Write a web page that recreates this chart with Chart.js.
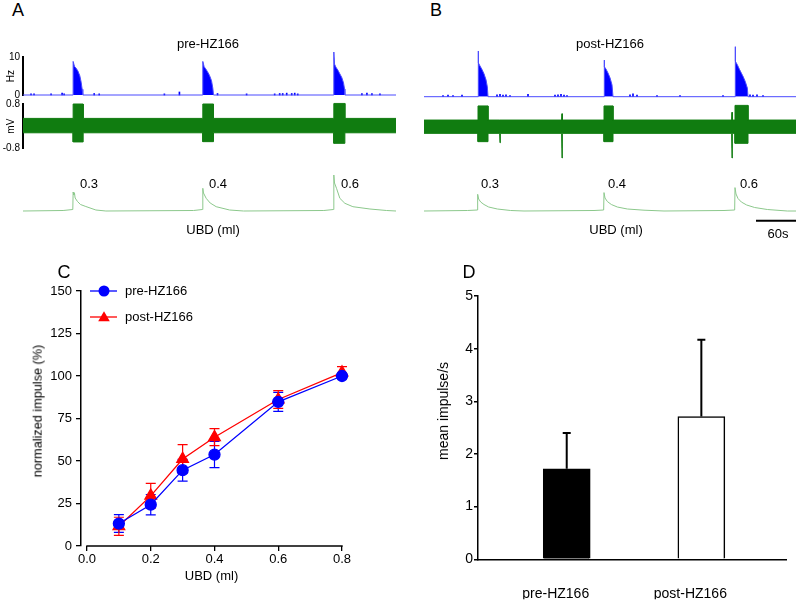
<!DOCTYPE html>
<html>
<head>
<meta charset="utf-8">
<title>HZ166 bladder afferent recordings</title>
<script src="https://cdn.jsdelivr.net/npm/chart.js"></script>
<style>
  html, body { margin: 0; padding: 0; background: #fff; }
  body { width: 800px; height: 602px; position: relative; overflow: hidden;
         font-family: "Liberation Sans", Arial, Helvetica, sans-serif; color: #000; }
  canvas { position: absolute; }
  .lbl { position: absolute; white-space: nowrap; line-height: 1; transform: translate(-50%, -50%); }
  .rot { transform: translate(-50%, -50%) rotate(-90deg); }
</style>
</head>
<body>
  <canvas id="hzA" width="400" height="64" style="left:0;top:40px;width:400px;height:64px"></canvas>
  <canvas id="mvA" width="400" height="68" style="left:0;top:94px;width:400px;height:68px"></canvas>
  <canvas id="prA" width="400" height="66" style="left:0;top:160px;width:400px;height:66px"></canvas>
  <canvas id="hzB" width="400" height="64" style="left:400px;top:40px;width:400px;height:64px"></canvas>
  <canvas id="mvB" width="400" height="68" style="left:400px;top:94px;width:400px;height:68px"></canvas>
  <canvas id="prB" width="400" height="66" style="left:400px;top:160px;width:400px;height:66px"></canvas>
  <canvas id="chartC" width="400" height="350" style="left:0;top:250px;width:400px;height:350px"></canvas>
  <canvas id="chartD" width="400" height="350" style="left:400px;top:250px;width:400px;height:350px"></canvas>

  <div class="lbl" style="left:18px;top:10px;font-size:18px">A</div>
  <div class="lbl" style="left:436px;top:10px;font-size:18px">B</div>
  <div class="lbl" style="left:208px;top:43px;font-size:13px">pre-HZ166</div>
  <div class="lbl" style="left:610px;top:43px;font-size:13px">post-HZ166</div>
  <div class="lbl" style="left:89px;top:183px;font-size:13px">0.3</div>
  <div class="lbl" style="left:218px;top:183px;font-size:13px">0.4</div>
  <div class="lbl" style="left:350px;top:183px;font-size:13px">0.6</div>
  <div class="lbl" style="left:490px;top:183px;font-size:13px">0.3</div>
  <div class="lbl" style="left:617px;top:183px;font-size:13px">0.4</div>
  <div class="lbl" style="left:749px;top:183px;font-size:13px">0.6</div>
  <div class="lbl" style="left:213px;top:229px;font-size:13px">UBD (ml)</div>
  <div class="lbl" style="left:616px;top:229px;font-size:13px">UBD (ml)</div>
  <div class="lbl" style="left:778px;top:233px;font-size:13px">60s</div>
  <div class="lbl" style="left:64px;top:272px;font-size:18px">C</div>
  <div class="lbl" style="left:469px;top:272px;font-size:18px">D</div>
  <div class="lbl rot" style="left:38px;top:411px;font-size:12.7px">normalized impulse (%)</div>
  <div class="lbl rot" style="left:443px;top:411px;font-size:14px">mean impulse/s</div>

<script>
const FONT = '"Liberation Sans", Arial, Helvetica, sans-serif';
const BLUE = '#0000ff';
const RED = '#ff0000';
const GREEN = '#107c10';
const PRESSURE = '#8cc88c';

// ---- A / B traces, time in seconds (0-558 s window) ----
const hzTimeA = [0, 75, 75, 77, 79, 82, 85, 87, 88.5, 89.5,
  269, 269, 271, 273, 276, 279, 282, 284, 285,
  465, 465, 466, 468, 471, 474, 477, 479.5, 481, 481.5, 558];
const hzRateA = [0, 0, 8.9, 7.6, 7.2, 6.4, 5.1, 3.4, 1.5, 0,
  0, 8.9, 7.5, 7.0, 6.2, 5.2, 3.8, 1.8, 0,
  0, 11.4, 8.2, 7.4, 6.6, 5.6, 4.6, 3.2, 1.6, 0, 0];
const blipTimeA = [12, 16.5, 42, 58.5, 61.5, 106.5, 114, 211.5, 234, 291, 334.5, 376.5,
  384, 388.5, 394.5, 402, 406.5, 411, 507, 514.5, 522, 534];
const blipRateA = [0.3, 0.3, 0.3, 0.5, 0.3, 0.4, 0.3, 0.3, 0.8, 0.4, 0.3, 0.3,
  0.4, 0.4, 0.5, 0.4, 0.5, 0.3, 0.4, 0.5, 0.4, 0.3];

const hzTimeB = [0, 81, 81, 82, 84, 87, 90, 93, 95, 96,
  270, 270, 271, 273, 276, 279, 282, 283.5,
  466.5, 466.5, 467.5, 470, 473, 476, 479, 482, 485, 486, 558];
const hzRateB = [0, 0, 11.6, 8.6, 7.8, 6.9, 5.8, 4.3, 2.5, 0,
  0, 9.3, 7.6, 7.0, 6.0, 4.8, 3.0, 0,
  0, 12.7, 9.0, 8.1, 7.0, 6.0, 5.0, 3.8, 2.2, 0, 0];
const blipTimeB = [28.5, 36, 43.5, 57, 109.5, 114, 118.5, 123, 129, 156, 196.5, 201,
  205.5, 210, 214.5, 309, 313.5, 319.5, 349.5, 384, 448.5, 489, 493.5, 499.5, 508.5];
const blipRateB = [0.3, 0.4, 0.3, 0.4, 0.5, 0.6, 0.4, 0.5, 0.3, 0.6, 0.4, 0.5,
  0.6, 0.4, 0.3, 0.5, 0.7, 0.4, 0.3, 0.3, 0.3, 0.5, 0.4, 0.5, 0.3];

// raw nerve signal envelope (mV)
const mvTimeA = [0, 75, 75, 90, 90, 269, 269, 285, 285, 465, 465, 481.5, 481.5, 558];
const mvUpperA = [0.28, 0.28, 0.80, 0.80, 0.28, 0.28, 0.80, 0.80, 0.28, 0.28, 0.82, 0.82, 0.28, 0.28];
const mvLowerA = [-0.24, -0.24, -0.57, -0.57, -0.24, -0.24, -0.56, -0.56, -0.24, -0.24, -0.62, -0.62, -0.24, -0.24];

const mvTimeB = [0, 81, 81, 96, 96, 113.5, 114, 114.5, 206.5, 207, 207.5,
  270, 270, 283.5, 283.5, 461.5, 462, 462.5, 466.5, 466.5, 486, 486, 558];
const mvUpperB = [0.22, 0.22, 0.73, 0.73, 0.22, 0.22, 0.22, 0.22, 0.22, 0.45, 0.22,
  0.22, 0.73, 0.73, 0.22, 0.22, 0.5, 0.22, 0.22, 0.75, 0.75, 0.22, 0.22];
const mvLowerB = [-0.26, -0.26, -0.56, -0.56, -0.26, -0.26, -0.6, -0.26, -0.26, -1.15, -0.26,
  -0.26, -0.56, -0.56, -0.26, -0.26, -1.15, -0.26, -0.26, -0.62, -0.62, -0.26, -0.26];

// bladder pressure (relative units)
const prTimeA = [0, 60, 74.5, 75, 76, 77, 78, 81.5, 86, 94, 109, 124,
  255, 268.5, 269, 270, 274, 280, 289, 309, 330,
  450, 464.5, 465, 466, 469, 474, 481.5, 493.5, 519, 544, 558];
const prA = [0, 0.5, 1.5, 19, 16, 18, 13, 9.5, 6.5, 4.5, 1, 0,
  0.5, 1.5, 22.7, 18, 12.7, 8, 4.3, 1, 0,
  0.5, 1.5, 36, 28, 22.7, 12.7, 7.7, 4.3, 2, 0.5, 0];
const prTimeB = [0, 65, 80, 80.5, 82, 85, 90, 97, 110, 130, 150,
  255, 269.5, 270, 271.5, 275, 281, 290, 305, 330, 360,
  450, 466, 466.5, 468, 471, 476, 484, 496, 515, 545, 558];
const prB = [0, 0.5, 1, 16.7, 12, 9, 6.5, 4, 2, 0.5, 0,
  0.5, 1, 18.4, 13, 9.5, 6.5, 4, 2, 0.8, 0,
  0.5, 1, 23.4, 17, 12.5, 9, 6, 3.5, 1.5, 0, 0];

const hzTicks = [0, 10];
const mvTicks = [-0.8, 0.8];
const scaleBar = [498, 558];

// ---- C: dose response ----
const doseUBD = [0.1, 0.2, 0.3, 0.4, 0.6, 0.8];
const preImpulse = [13.2, 24.3, 44.6, 53.8, 84.8, 100];
const preImpulseSem = [5.2, 6.0, 6.4, 7.7, 5.6, 1.5];
const postImpulse = [11.6, 29.5, 51.2, 64.0, 86.2, 102.0];
const postImpulseSem = [5.3, 7.3, 8.4, 5.0, 5.2, 3.5];
const xTicksC = [0, 0.2, 0.4, 0.6, 0.8];
const yTicksC = [0, 25, 50, 75, 100, 125, 150];

// ---- D: mean firing ----
const dCategories = ['pre-HZ166', 'post-HZ166'];
const dPositions = [1, 2];
const dMeans = [1.72, 2.71];
const dSem = [0.68, 1.46];
const yTicksD = [0, 1, 2, 3, 4, 5];

Chart.defaults.font.family = FONT;
Chart.defaults.color = '#000';

const xy = (xs, ys) => xs.map((x, i) => ({ x, y: ys[i] }));

const errorBars = {
  id: 'errorBars',
  beforeDatasetsDraw(chart) {
    const ctx = chart.ctx;
    chart.data.datasets.forEach((ds, i) => {
      if (!ds.errors) return;
      const meta = chart.getDatasetMeta(i);
      const ys = chart.scales[meta.yAxisID];
      const cap = ds.errorCap || 5;
      ctx.save();
      ctx.strokeStyle = ds.errorColor || ds.borderColor;
      ctx.lineWidth = ds.errorWidth || 1;
      meta.data.forEach((el, j) => {
        const v = ds.data[j].y;
        const e = ds.errors[j];
        const x = el.x;
        const top = ys.getPixelForValue(v + e);
        const bot = ys.getPixelForValue(ds.errorUpOnly ? v : v - e);
        ctx.beginPath();
        ctx.moveTo(x, top); ctx.lineTo(x, bot);
        ctx.moveTo(x - cap, top); ctx.lineTo(x + cap, top);
        if (!ds.errorUpOnly) { ctx.moveTo(x - cap, bot); ctx.lineTo(x + cap, bot); }
        ctx.stroke();
      });
      ctx.restore();
    });
  }
};

function traceChart(id, datasets, padding, yOpts, extraPlugins) {
  return new Chart(document.getElementById(id), {
    type: 'line',
    data: { datasets },
    options: {
      responsive: false, animation: false, events: [],
      layout: { padding },
      plugins: { legend: { display: false }, tooltip: { enabled: false } },
      elements: { point: { radius: 0 }, line: { tension: 0 } },
      scales: {
        x: { type: 'linear', min: 0, max: 558, offset: false, display: false },
        y: yOpts
      }
    },
    plugins: extraPlugins || []
  });
}

function sideAxis(min, max, ticks, title) {
  return {
    min, max,
    afterFit: s => { s.width = 23; },
    afterBuildTicks: s => { s.ticks = ticks.map(v => ({ value: v })); },
    grid: { display: false, drawTicks: false },
    border: { display: true, color: '#000', width: 2 },
    ticks: { padding: 3, font: { size: 10 }, callback: v => String(v) },
    title: { display: true, text: title, font: { size: 10 }, padding: { top: 5, bottom: 0 } }
  };
}

function hzSets(t, r, bt, br) {
  return [
    { data: xy(t, r), borderColor: '#4a4aff', borderWidth: 1, backgroundColor: BLUE, fill: 'origin', clip: false },
    { type: 'bar', data: xy(bt, br), backgroundColor: BLUE, barThickness: 1, clip: false }
  ];
}
function mvSets(t, up, lo) {
  return [
    { data: xy(t, up), borderColor: GREEN, borderWidth: 1, backgroundColor: GREEN, fill: '+1', clip: false },
    { data: xy(t, lo), borderColor: GREEN, borderWidth: 1, backgroundColor: GREEN, fill: false, clip: false }
  ];
}
function prSets(t, p) {
  return [{ data: xy(t, p), borderColor: PRESSURE, borderWidth: 1, fill: false, clip: false }];
}

const scaleBarPlugin = {
  id: 'scaleBar',
  afterDraw(chart) {
    const x = chart.scales.x, ctx = chart.ctx;
    const y = chart.chartArea.bottom + 4.7;
    ctx.save();
    ctx.strokeStyle = '#000'; ctx.lineWidth = 2;
    ctx.beginPath();
    ctx.moveTo(x.getPixelForValue(scaleBar[0]), y);
    ctx.lineTo(x.getPixelForValue(scaleBar[1]), y);
    ctx.stroke();
    ctx.restore();
  }
};

const hidden = (min, max) => ({ min, max, display: false });

// canvas hz: top 40 -> plot 57.3..96.7 ; canvas mv: top 94 -> plot 104..148.3
const padHz = { top: 17.3, bottom: 7.3 };
const padMv = { top: 10, bottom: 13.7 };

traceChart('hzA', hzSets(hzTimeA, hzRateA, blipTimeA, blipRateA),
  { left: 0, right: 4, ...padHz }, sideAxis(0, 10, hzTicks, 'Hz'));
traceChart('mvA', mvSets(mvTimeA, mvUpperA, mvLowerA),
  { left: 0, right: 4, ...padMv }, sideAxis(-0.8, 0.8, mvTicks, 'mV'));
traceChart('prA', prSets(prTimeA, prA),
  { left: 23, right: 4, top: 6, bottom: 10 }, hidden(-5, 45));

traceChart('hzB', hzSets(hzTimeB, hzRateB, blipTimeB, blipRateB),
  { left: 24, right: 4, ...padHz }, hidden(0, 10));
traceChart('mvB', mvSets(mvTimeB, mvUpperB, mvLowerB),
  { left: 24, right: 4, ...padMv }, hidden(-0.8, 0.8));
traceChart('prB', prSets(prTimeB, prB),
  { left: 24, right: 4, top: 6, bottom: 10 }, hidden(-5, 45), [scaleBarPlugin]);

// ---- panel C ----
const prismXAxis = {
  id: 'prismXAxis',
  beforeDatasetsDraw(chart) {
    const x = chart.scales.x, y = chart.scales.y, ctx = chart.ctx;
    const yy = y.getPixelForValue(0);
    ctx.save();
    ctx.strokeStyle = '#000'; ctx.lineWidth = 1.5;
    ctx.beginPath();
    ctx.moveTo(x.getPixelForValue(xTicksC[0]) - 0.7, yy);
    ctx.lineTo(x.getPixelForValue(xTicksC[xTicksC.length - 1]) + 0.7, yy);
    ctx.stroke();
    ctx.restore();
  }
};

function marker(ctx, style, x, y, r) {
  ctx.beginPath();
  if (style === 'triangle') {
    for (let k = 0; k < 3; k++) {
      const a = k * 2 * Math.PI / 3;
      const px = x + Math.sin(a) * r, py = y - Math.cos(a) * r;
      if (k === 0) ctx.moveTo(px, py); else ctx.lineTo(px, py);
    }
    ctx.closePath();
  } else {
    ctx.arc(x, y, r, 0, Math.PI * 2);
  }
  ctx.fill();
}

const legendC = {
  id: 'legendC',
  afterDraw(chart) {
    const ctx = chart.ctx, a = chart.chartArea;
    chart.data.datasets.forEach((ds, i) => {
      const y = a.top + i * 26;
      ctx.save();
      ctx.strokeStyle = ds.borderColor; ctx.fillStyle = ds.backgroundColor;
      ctx.lineWidth = ds.borderWidth;
      ctx.beginPath(); ctx.moveTo(a.left + 9, y); ctx.lineTo(a.left + 36, y); ctx.stroke();
      marker(ctx, ds.pointStyle, a.left + 23, y + (ds.pointStyle === 'triangle' ? 1 : 0), ds.pointRadius);
      ctx.fillStyle = '#000';
      ctx.font = '13px ' + FONT;
      ctx.textBaseline = 'middle';
      ctx.fillText(ds.label, a.left + 44, y);
      ctx.restore();
    });
  }
};

new Chart(document.getElementById('chartC'), {
  type: 'line',
  data: {
    datasets: [
      { label: 'pre-HZ166', data: xy(doseUBD, preImpulse), borderColor: BLUE, backgroundColor: BLUE,
        pointStyle: 'circle', pointRadius: 5.5, borderWidth: 1.3, errors: preImpulseSem, errorWidth: 1.2, clip: false },
      { label: 'post-HZ166', data: xy(doseUBD, postImpulse), borderColor: RED, backgroundColor: RED,
        pointStyle: 'triangle', pointRadius: 6.7, borderWidth: 1.3, errors: postImpulseSem, errorWidth: 1.2, clip: false }
    ]
  },
  options: {
    responsive: false, animation: false, events: [],
    layout: { padding: { left: 0, right: 58, top: 41, bottom: 14 } },
    plugins: { legend: { display: false }, tooltip: { enabled: false } },
    elements: { line: { tension: 0 } },
    scales: {
      x: {
        type: 'linear', min: -0.0188, max: 0.8, offset: false,
        afterFit: s => { s.height = 40; },
        afterBuildTicks: s => { s.ticks = xTicksC.map(v => ({ value: v })); },
        ticks: { padding: 1, font: { size: 13 }, callback: v => Number(v).toFixed(1) },
        grid: { display: true, drawOnChartArea: false, drawTicks: true, tickLength: 5, color: '#000', lineWidth: 1.3 },
        border: { display: false },
        title: { display: true, text: 'UBD (ml)', font: { size: 13 }, padding: { top: 0, bottom: 2 } }
      },
      y: {
        min: 0, max: 150,
        afterFit: s => { s.width = 81; },
        afterBuildTicks: s => { s.ticks = yTicksC.map(v => ({ value: v })); },
        ticks: { padding: 4, font: { size: 13 } },
        grid: { display: true, drawOnChartArea: false, drawTicks: true, tickLength: 5, color: '#000', lineWidth: 1.3 },
        border: { display: true, color: '#000', width: 1.5 }
      }
    }
  },
  plugins: [errorBars, prismXAxis, legendC]
});

// ---- panel D ----
new Chart(document.getElementById('chartD'), {
  type: 'bar',
  data: {
    datasets: [{
      data: xy(dPositions, dMeans),
      backgroundColor: ['#000000', '#ffffff'],
      borderColor: '#000', borderWidth: 1.5, barThickness: 47,
      errors: dSem, errorUpOnly: true, errorColor: '#000', errorWidth: 2, errorCap: 4
    }]
  },
  options: {
    responsive: false, animation: false, events: [],
    layout: { padding: { left: 0, right: 13.3, top: 46, bottom: 0.7 } },
    plugins: { legend: { display: false }, tooltip: { enabled: false } },
    scales: {
      x: {
        type: 'linear', min: 0.341, max: 2.634, offset: false,
        afterFit: s => { s.height = 40; },
        afterBuildTicks: s => { s.ticks = dPositions.map(v => ({ value: v })); },
        ticks: { padding: 26, labelOffset: -11, font: { size: 14 }, callback: (v, i) => dCategories[i] },
        grid: { display: false, drawTicks: false },
        border: { display: true, color: '#000', width: 1.5 }
      },
      y: {
        min: 0, max: 5,
        afterFit: s => { s.width = 78; },
        afterBuildTicks: s => { s.ticks = yTicksD.map(v => ({ value: v })); },
        ticks: { padding: 1, font: { size: 14 } },
        grid: { display: true, drawOnChartArea: false, drawTicks: true, tickLength: 4, color: '#000', lineWidth: 1.5 },
        border: { display: true, color: '#000', width: 1.5 }
      }
    }
  },
  plugins: [errorBars]
});
</script>
</body>
</html>
